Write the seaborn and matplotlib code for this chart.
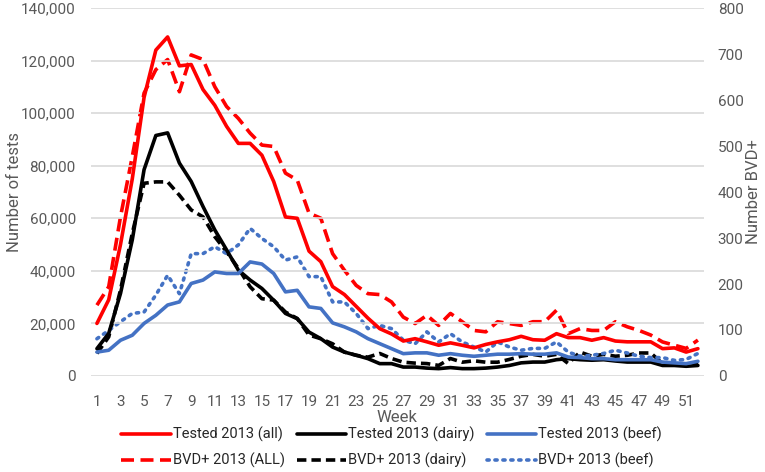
import numpy as np
import pandas as pd
import matplotlib
matplotlib.use("Agg")
import matplotlib.pyplot as plt
import seaborn as sns

weeks = list(range(1, 53))

# Number of tests (left axis)
tested_all = [20000, 29000, 50000, 75000, 106000, 124000, 129000, 118000, 118500, 109000,
              103000, 95000, 88500, 88500, 84000, 74000, 60500, 60000, 47500, 43500,
              34000, 31000, 26500, 22000, 18000, 16000, 13300, 14200, 13000, 11700,
              12600, 11700, 10700, 12000, 13000, 13800, 15100, 13800, 13600, 16100,
              14600, 14600, 13600, 14600, 13300, 13000, 13000, 13000, 10400, 10700,
              9100, 10400]
tested_dairy = [10400, 16200, 31400, 51800, 78500, 91500, 92500, 81000, 74000, 64500,
                55600, 48000, 40300, 36500, 33300, 28800, 23800, 21800, 16700, 14200,
                11000, 9100, 7900, 6600, 4700, 4700, 3400, 3400, 3000, 2800,
                3200, 2800, 2800, 3000, 3400, 4000, 5000, 5300, 5300, 6200,
                6600, 6200, 6000, 6200, 5700, 5300, 5300, 5300, 4000, 4000,
                3700, 4000]
tested_beef = [9100, 9800, 13600, 15500, 20000, 23100, 27000, 28200, 35200, 36500,
               39600, 39000, 39000, 43400, 42600, 39000, 32000, 32600, 26300, 25700,
               20200, 18700, 16800, 14200, 12300, 10400, 8500, 8800, 8800, 7900,
               8500, 7900, 7500, 7900, 8300, 8300, 8500, 8300, 8300, 8800,
               7200, 7000, 6600, 6600, 6200, 6200, 6200, 6200, 5300, 5000,
               4700, 5600]

# Number BVD+ (right axis)
bvd_all = [154, 194, 346, 477, 615, 666, 688, 618, 698, 688,
           629, 586, 560, 528, 502, 499, 441, 426, 354, 343,
           266, 230, 197, 179, 177, 161, 128, 114, 132, 110,
           136, 118, 99, 96, 118, 114, 110, 118, 118, 143,
           92, 103, 99, 99, 118, 107, 99, 89, 74, 67,
           60, 78]
bvd_dairy = [49, 85, 187, 310, 419, 422, 422, 393, 361, 346,
             303, 270, 234, 194, 168, 165, 139, 125, 89, 81,
             70, 52, 45, 41, 49, 38, 30, 28, 27, 23,
             38, 30, 33, 30, 30, 36, 43, 47, 43, 47,
             27, 52, 43, 47, 43, 45, 50, 50, 27, 23,
             25, 30]
bvd_beef = [81, 99, 118, 136, 139, 176, 219, 179, 266, 266,
            281, 266, 285, 321, 299, 281, 252, 259, 216, 216,
            161, 161, 136, 103, 110, 103, 78, 70, 96, 74,
            92, 74, 63, 52, 74, 63, 56, 60, 60, 74,
            52, 43, 45, 49, 56, 50, 43, 40, 40, 34,
            36, 49]

df = pd.DataFrame({"Week": weeks,
                   "tested_all": tested_all, "tested_dairy": tested_dairy,
                   "tested_beef": tested_beef, "bvd_all": bvd_all,
                   "bvd_dairy": bvd_dairy, "bvd_beef": bvd_beef})

sns.set_style("white")
plt.rcParams['font.family'] = ['Roboto', 'DejaVu Sans']

red = "#ff0000"
black = "#000000"
blue = "#4472c4"
grey = "#595959"

fig = plt.figure(figsize=(7.65, 4.72), dpi=100)
ax = fig.add_axes([0.119, 0.2034, 0.801, 0.7796])
ax2 = ax.twinx()

lw = 2.6
sns.lineplot(data=df, x="Week", y="tested_all", ax=ax, color=red, lw=lw,
             label="Tested 2013 (all)", legend=False)
sns.lineplot(data=df, x="Week", y="tested_dairy", ax=ax, color=black, lw=lw,
             label="Tested 2013 (dairy)", legend=False)
sns.lineplot(data=df, x="Week", y="tested_beef", ax=ax, color=blue, lw=lw,
             label="Tested 2013 (beef)", legend=False)
sns.lineplot(data=df, x="Week", y="bvd_all", ax=ax2, color=red, lw=lw,
             linestyle=(0, (3.6, 1.8)), label="BVD+ 2013 (ALL)", legend=False)
sns.lineplot(data=df, x="Week", y="bvd_dairy", ax=ax2, color=black, lw=lw,
             linestyle=(0, (2.6, 1.4)), label="BVD+ 2013 (dairy)", legend=False)
sns.lineplot(data=df, x="Week", y="bvd_beef", ax=ax2, color=blue, lw=lw,
             linestyle=(0, (0.6, 1.6)), dash_capstyle="round",
             label="BVD+ 2013 (beef)", legend=False)

ax.set_xlim(0.5, 52.5)
ax.set_ylim(0, 140000)
ax2.set_ylim(0, 800)
ax.set_xticks(weeks[::2])
ax.set_yticks(range(0, 140001, 20000))
ax.set_yticklabels([f"{v:,}" for v in range(0, 140001, 20000)])
ax2.set_yticks(range(0, 801, 100))
ax.grid(axis="y", color="#d9d9d9", lw=1.2)
ax.set_axisbelow(True)
ax.set_zorder(ax2.get_zorder() + 1)
ax.patch.set_visible(False)

for a in (ax, ax2):
    for s in a.spines.values():
        s.set_visible(False)
    a.tick_params(length=0, labelsize=11, colors=grey)
ax.tick_params(axis="x", pad=14)
ax.tick_params(axis="y", pad=11)
ax2.tick_params(axis="y", pad=10)

ax.set_xlabel("Week", fontsize=12, color=grey)
ax.xaxis.set_label_coords(0.499, -0.092)
ax.set_ylabel("Number of tests", fontsize=12, color=grey)
ax.yaxis.set_label_coords(-0.112, 0.5)
ax2.set_ylabel("Number BVD+", fontsize=12, color=grey)
ax2.yaxis.set_label_coords(1.069, 0.5)

h1, l1 = ax.get_legend_handles_labels()
h2, l2 = ax2.get_legend_handles_labels()
order_h = [h1[0], h2[0], h1[1], h2[1], h1[2], h2[2]]
order_l = [l1[0], l2[0], l1[1], l2[1], l1[2], l2[2]]
leg = fig.legend(order_h, order_l, loc="lower center", ncol=3, frameon=False,
                 bbox_to_anchor=(0.512, -0.02), fontsize=10.5, handlelength=3.4,
                 handletextpad=0.15, columnspacing=0.8, labelspacing=0.72)
for t in leg.get_texts():
    t.set_color("#262626")

fig.savefig("out.png", dpi=100)
